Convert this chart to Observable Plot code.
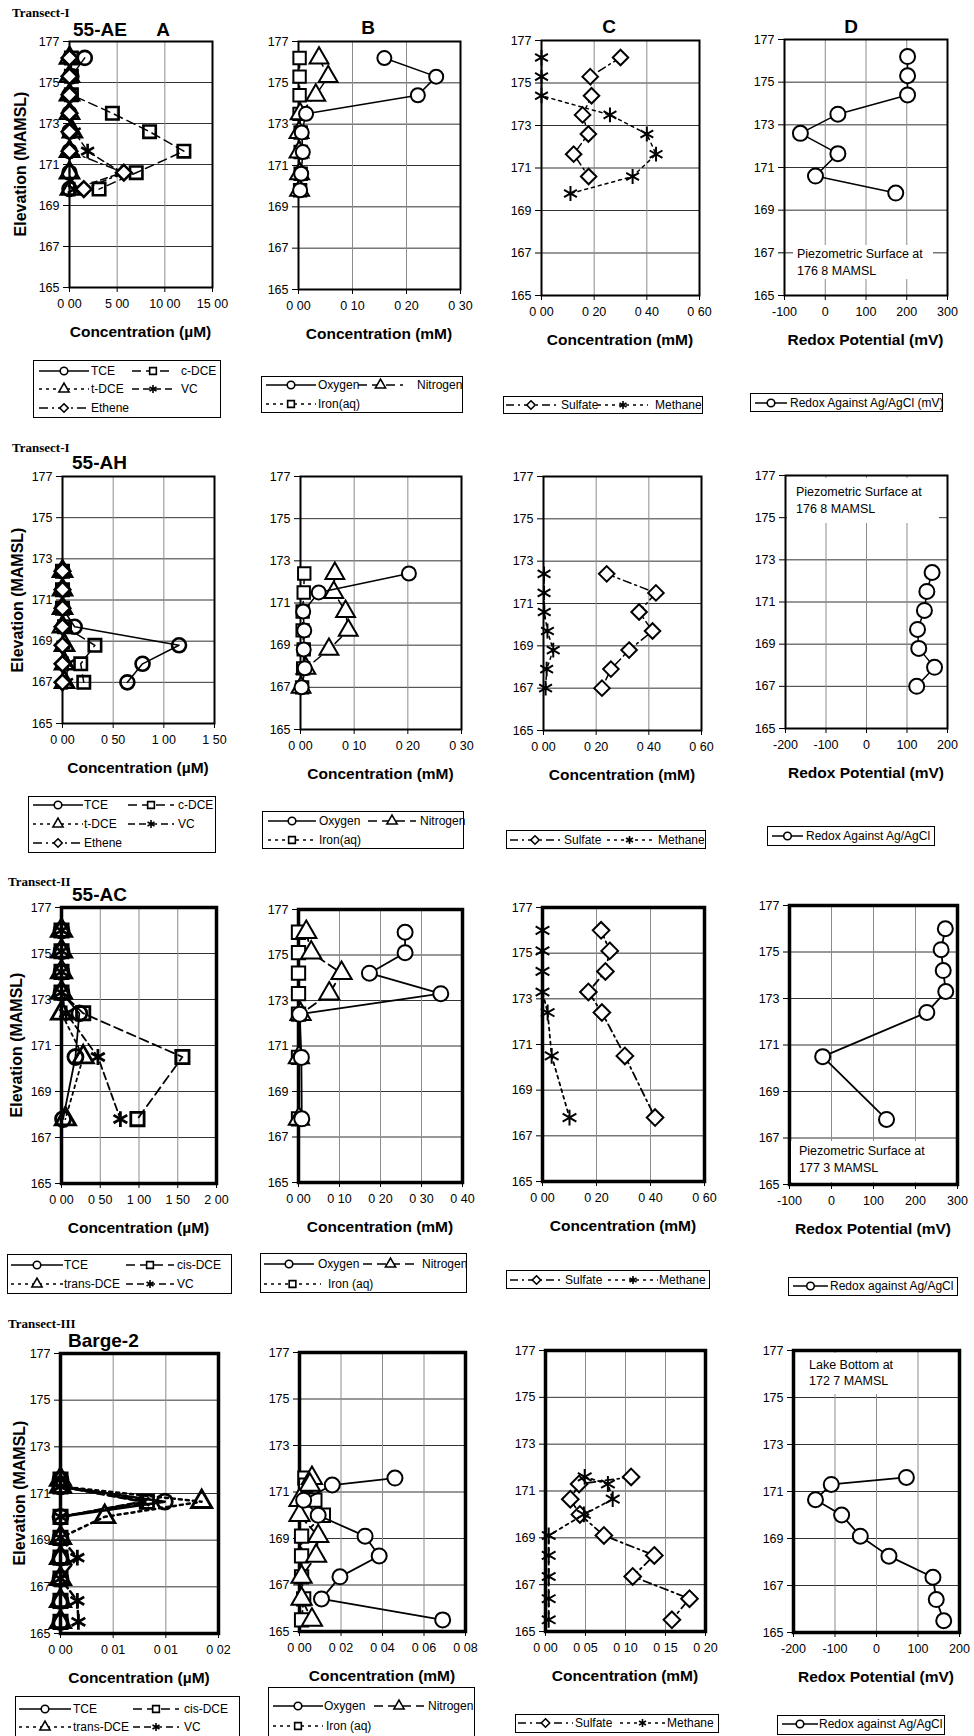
<!DOCTYPE html>
<html><head><meta charset="utf-8">
<script src="https://cdn.jsdelivr.net/npm/d3@7"></script>
<script src="https://cdn.jsdelivr.net/npm/@observablehq/plot@0.6"></script>
<style>
body{margin:0;background:#fff;}
#root{position:relative;width:974px;height:1736px;overflow:hidden;font-family:"Liberation Sans",Arial,sans-serif;color:#000;background:#fff;}
.abs{position:absolute;white-space:nowrap;}
.transect{font-family:"Liberation Serif","Times New Roman",serif;font-weight:bold;font-size:13px;transform:translateY(-50%);}
.station{font-weight:bold;font-size:19px;transform:translateY(-50%);}
.coltitle{font-weight:bold;font-size:19px;transform:translate(-50%,-50%);}
.xlab{font-weight:bold;font-size:15.5px;transform:translate(-50%,-50%);}
.ylab{font-weight:bold;font-size:16px;transform:translate(-50%,-50%) rotate(-90deg);}
.legend{position:absolute;border:1.3px solid #000;box-sizing:border-box;background:#fff;}
.legend span{position:absolute;font-size:12px;transform:translateY(-50%);white-space:nowrap;}
.note{position:absolute;background:#fff;font-size:12.5px;box-sizing:border-box;white-space:nowrap;}
</style></head>
<body><div id="root"></div>
<script>
// ---------- DATA ----------
const yTicks = [165, 167, 169, 171, 173, 175, 177];

// Transect-I, 55-AE
const elev_AE = [176.2, 175.3, 174.4, 173.5, 172.6, 171.65, 170.6, 169.8];
const AE_TCE = [1.6, 0.2, 0, 0, 0, 0, 0, 0];
const AE_cDCE = [0.2, 0.2, 0.2, 4.5, 8.4, 12.0, 7.0, 3.1];
const AE_tDCE = [0, 0, 0, 0, 0.3, 0, 0, 0.1];
const AE_VC = [0, 0, 0, 0, 0.5, 1.9, 5.5, 0.5];
const AE_Ethene = [0, 0, 0, 0, 0, 0, 5.7, 1.5];
const AE_O2 = [0.159, 0.255, 0.221, 0.014, 0.006, 0.008, 0.005, 0.003];
const AE_N2 = [0.038, 0.055, 0.032, 0.003, 0.001, 0.001, 0.002, 0.002];
const AE_Fe = [0.002, 0.002, 0.002, 0.002, 0.004, 0.004, 0.004, 0.003];
const AE_SO4 = [0.30, 0.185, 0.19, 0.156, 0.178, 0.122, 0.179, null];
const AE_CH4 = [0.0, 0.0, 0.0, 0.26, 0.40, 0.435, 0.346, 0.11];
const AE_Eh = [202, 202, 202, 31, -61, 31, -24, 173];

// Transect-I, 55-AH
const elev_AH = [172.4, 171.5, 170.6, 169.7, 168.8, 167.9, 167.0];
const AH_TCE = [0, 0, 0, 0.12, 1.15, 0.79, 0.64];
const AH_cDCE = [0, 0, 0, 0.02, 0.32, 0.18, 0.21];
const AH_tDCE = [0, 0, 0, 0, 0.02, 0.02, 0.02];
const AH_VC = [0, 0, 0, 0, 0.01, 0.05, 0.04];
const AH_Ethene = [0, 0, 0, 0, 0, 0, 0];
const AH_O2 = [0.202, 0.034, 0.005, 0.007, 0.006, 0.008, 0.002];
const AH_N2 = [0.064, 0.062, 0.084, 0.089, 0.053, 0.010, 0.001];
const AH_Fe = [0.007, 0.006, 0.004, 0.004, 0.006, 0.005, 0.003];
const AH_SO4 = [0.24, 0.427, 0.363, 0.414, 0.325, 0.256, 0.222];
const AH_CH4 = [0.002, 0.002, 0.003, 0.015, 0.037, 0.012, 0.008];
const AH_Eh = [162, 149, 143, 126, 129, 168, 124];

// Transect-II, 55-AC
const elev_AC = [176.0, 175.1, 174.2, 173.3, 172.4, 170.5, 167.8];
const AC_TCE = [0, 0, 0, 0, 0.23, 0.18, 0.02];
const AC_cDCE = [0, 0, 0, 0, 0.28, 1.56, 0.98];
const AC_tDCE = [0, 0, 0, 0, 0.0, 0.28, 0.05];
const AC_VC = [0, 0, 0, 0, 0.06, 0.47, 0.76];
const AC_O2 = [0.26, 0.26, 0.173, 0.347, 0.003, 0.007, 0.008];
const AC_N2 = [0.019, 0.031, 0.105, 0.075, 0.005, 0.001, 0.001];
const AC_Fe = [0, 0, 0, 0, 0, 0, 0];
const AC_SO4 = [0.217, 0.249, 0.233, 0.17, 0.22, 0.305, 0.417];
const AC_CH4 = [0, 0, 0, 0, 0.019, 0.034, 0.10];
const AC_Eh = [271, 261, 266, 272, 227, -21, 131];

// Transect-III, Barge-2
const elev_B2 = [171.6, 171.3, 170.65, 170.0, 169.1, 168.25, 167.35, 166.4, 165.5];
const B2_TCE = [0, 0, 0.0099, 0, 0, 0, 0, 0, 0];
const B2_cDCE = [0, 0, 0.0082, 0, 0, 0, 0, 0, 0];
const B2_tDCE = [0, 0, 0.0134, 0.0042, 0, 0, 0, 0, 0];
const B2_VC = [0, 0, 0.0078, 0, 0, 0.0016, 0, 0.0016, 0.0017];
const B2_O2 = [0.046, 0.0158, 0.002, 0.009, 0.0316, 0.0384, 0.0195, 0.0106, 0.069];
const B2_N2 = [0.006, 0.005, 0.0, 0.0, 0.009, 0.008, 0.001, 0.001, 0.006];
const B2_Fe = [0.0026, 0.003, 0.0074, 0.0115, 0.001, 0.001, 0.001, 0.002, 0.001];
const B2_SO4 = [0.107, 0.042, 0.031, 0.043, 0.073, 0.136, 0.109, 0.18, 0.158];
const B2_CH4 = [0.049, 0.078, 0.084, 0.048, 0.004, 0.004, 0.004, 0.004, 0.004];
const B2_Eh = [72, -109, -147, -84, -39, 30, 136, 144, 162];

// tick values and labels
const xt_AE_A = [0, 5, 10, 15], xl_AE_A = ["0 00", "5 00", "10 00", "15 00"];
const xt_mM3 = [0, 0.1, 0.2, 0.3], xl_mM3 = ["0 00", "0 10", "0 20", "0 30"];
const xt_mM6 = [0, 0.2, 0.4, 0.6], xl_mM6 = ["0 00", "0 20", "0 40", "0 60"];
const xt_Eh1 = [-100, 0, 100, 200, 300], xl_Eh1 = ["-100", "0", "100", "200", "300"];
const xt_AH_A = [0, 0.5, 1, 1.5], xl_AH_A = ["0 00", "0 50", "1 00", "1 50"];
const xt_Eh2 = [-200, -100, 0, 100, 200], xl_Eh2 = ["-200", "-100", "0", "100", "200"];
const xt_AC_A = [0, 0.5, 1, 1.5, 2], xl_AC_A = ["0 00", "0 50", "1 00", "1 50", "2 00"];
const xt_mM4 = [0, 0.1, 0.2, 0.3, 0.4], xl_mM4 = ["0 00", "0 10", "0 20", "0 30", "0 40"];
const xt_B2_A = [0, 0.005, 0.01, 0.015], xl_B2_A = ["0 00", "0 01", "0 01", "0 02"];
const xt_B2_B = [0, 0.02, 0.04, 0.06, 0.08], xl_B2_B = ["0 00", "0 02", "0 04", "0 06", "0 08"];
const xt_B2_C = [0, 0.05, 0.1, 0.15, 0.2], xl_B2_C = ["0 00", "0 05", "0 10", "0 15", "0 20"];

// ---------- STYLES ----------
const STY = {
  TCE: {symbol: "circle", dash: null, fill: "none"},
  cDCE: {symbol: "square", dash: "9,5", fill: "none"},
  tDCE: {symbol: "triangle", dash: "3,4", fill: "none"},
  VC: {symbol: "asterisk", dash: "7,4", fill: "none"},
  Ethene: {symbol: "diamond2", dash: "9,4,2,4", fill: "#fff"},
  O2: {symbol: "circle", dash: null, fill: "#fff"},
  N2: {symbol: "triangle", dash: "9,5", fill: "#fff"},
  Fe: {symbol: "square", dash: "3,4", fill: "#fff"},
  SO4: {symbol: "diamond2", dash: "8,4,2,4", fill: "#fff"},
  CH4: {symbol: "asterisk", dash: "3,4", fill: "none"},
  Eh: {symbol: "circle", dash: null, fill: "#fff"}
};

const root = document.getElementById("root");
function div(cls, text, css) {
  const d = document.createElement("div");
  d.className = cls; d.textContent = text;
  Object.assign(d.style, css);
  root.appendChild(d);
  return d;
}

function makePanel(p) {
  const [x0, y0, x1, y1] = p.f;
  const ml = 44, mr = 24, mt = 12, mb = 34;
  const W = x1 - x0 + ml + mr, H = y1 - y0 + mt + mb;
  const labels = new Map(p.xt.map((t, i) => [t, p.xl[i]]));
  const marks = [
    Plot.gridY({ticks: yTicks, stroke: "#333", strokeOpacity: 1, strokeWidth: 1}),
    Plot.gridX({ticks: p.xt, stroke: "#8c8c8c", strokeOpacity: 1, strokeWidth: 1}),
    Plot.axisY({ticks: yTicks, tickSize: 6, tickPadding: 4, label: null, tickFormat: d => String(d)}),
    Plot.axisX({ticks: p.xt, tickSize: 5, tickPadding: 7, label: null, tickFormat: d => labels.get(d)}),
    Plot.frame({stroke: "#000", strokeWidth: p.fw})
  ];
  for (const [key, vals] of p.series) {
    const st = STY[key];
    const data = p.elev.map((e, i) => ({e, v: vals[i]})).filter(d => d.v != null);
    marks.push(Plot.line(data, {x: "v", y: "e", stroke: "#000", strokeWidth: p.lw, strokeDasharray: st.dash || undefined}));
    marks.push(Plot.dot(data, {x: "v", y: "e", symbol: st.symbol, r: p.r, stroke: "#000", strokeWidth: p.sw || 2, fill: st.fill}));
  }
  const svg = Plot.plot({
    width: W, height: H,
    marginLeft: ml, marginRight: mr, marginTop: mt, marginBottom: mb,
    x: {domain: [p.xt[0], p.xt[p.xt.length - 1]]},
    y: {domain: [165, 177]},
    style: {background: "transparent", fontFamily: "'Liberation Sans', Arial, sans-serif", fontSize: "12.5px", color: "#000", overflow: "visible"},
    marks
  });
  svg.style.position = "absolute";
  svg.style.left = (x0 - ml) + "px";
  svg.style.top = (y0 - mt) + "px";
  svg.style.maxWidth = "none";
  root.appendChild(svg);
  div("abs xlab", p.xlab, {left: ((x0 + x1) / 2) + "px", top: (y1 + 45) + "px"});
  if (p.ylab != null) div("abs ylab", "Elevation (MAMSL)", {left: p.ylab + "px", top: ((y0 + y1) / 2) + "px"});
}

const symType = {circle: d3.symbolCircle, square: d3.symbolSquare, triangle: d3.symbolTriangle, asterisk: d3.symbolAsterisk, diamond2: d3.symbolDiamond2};
function makeLegend(L) {
  const [bl, bt, bw, bh] = L.box;
  const box = document.createElement("div");
  box.className = "legend";
  Object.assign(box.style, {left: bl + "px", top: bt + "px", width: bw + "px", height: bh + "px"});
  root.appendChild(box);
  for (const [key, label, ci, ri] of L.items) {
    const [s0, s1, tx] = L.cols[ci];
    const y = L.rows[ri];
    const st = STY[key];
    const w = s1 - s0, h = 14;
    const svg = d3.create("svg").attr("width", w).attr("height", h)
      .style("position", "absolute").style("left", s0 + "px").style("top", (y - h / 2 - 1) + "px").style("overflow", "visible");
    svg.append("line").attr("x1", 0).attr("x2", w).attr("y1", h / 2).attr("y2", h / 2)
      .attr("stroke", "#000").attr("stroke-width", 1.5).attr("stroke-dasharray", st.dash);
    svg.append("path").attr("transform", `translate(${w / 2},${h / 2})`)
      .attr("d", d3.symbol(symType[st.symbol], 45)())
      .attr("fill", st.symbol === "asterisk" ? "none" : "#fff").attr("stroke", "#000").attr("stroke-width", 1.6);
    box.appendChild(svg.node());
    const sp = document.createElement("span");
    sp.textContent = label;
    sp.style.left = tx + "px"; sp.style.top = (y - 1) + "px";
    box.appendChild(sp);
  }
}

function makeNote(n) {
  const d = document.createElement("div");
  d.className = "note";
  Object.assign(d.style, {left: n.box[0] + "px", top: n.box[1] + "px", width: n.box[2] + "px", height: n.box[3] + "px",
    paddingLeft: n.pl + "px", paddingTop: n.pt + "px", lineHeight: n.lh + "px"});
  d.innerHTML = n.lines.map(s => `<div>${s}</div>`).join("");
  root.appendChild(d);
}

// ---------- LAYOUT ----------
const chlor5 = (pre) => [["TCE", pre.TCE], ["cDCE", pre.cDCE], ["tDCE", pre.tDCE], ["VC", pre.VC], ["Ethene", pre.Ethene]];
const panels = [
  // Row 1
  {f: [69, 41, 212, 287], xt: xt_AE_A, xl: xl_AE_A, elev: elev_AE, series: chlor5({TCE: AE_TCE, cDCE: AE_cDCE, tDCE: AE_tDCE, VC: AE_VC, Ethene: AE_Ethene}), xlab: "Concentration (µM)", ylab: 21, fw: 2, lw: 1.5, r: 7, sw: 2.6},
  {f: [298, 41, 460, 289], xt: xt_mM3, xl: xl_mM3, elev: elev_AE, series: [["Fe", AE_Fe], ["N2", AE_N2], ["O2", AE_O2]], xlab: "Concentration (mM)", fw: 2, lw: 1.5, r: 7},
  {f: [541, 40, 699, 295], xt: xt_mM6, xl: xl_mM6, elev: elev_AE, series: [["SO4", AE_SO4], ["CH4", AE_CH4]], xlab: "Concentration (mM)", fw: 2, lw: 1.5, r: 7},
  {f: [784, 39, 947, 295], xt: xt_Eh1, xl: xl_Eh1, elev: elev_AE, series: [["Eh", AE_Eh]], xlab: "Redox Potential (mV)", fw: 2, lw: 1.5, r: 7.5},
  // Row 2
  {f: [62, 476, 214, 723], xt: xt_AH_A, xl: xl_AH_A, elev: elev_AH, series: chlor5({TCE: AH_TCE, cDCE: AH_cDCE, tDCE: AH_tDCE, VC: AH_VC, Ethene: AH_Ethene}), xlab: "Concentration (µM)", ylab: 18, fw: 2, lw: 1.5, r: 7, sw: 2.6},
  {f: [300, 476, 461, 729], xt: xt_mM3, xl: xl_mM3, elev: elev_AH, series: [["Fe", AH_Fe], ["N2", AH_N2], ["O2", AH_O2]], xlab: "Concentration (mM)", fw: 2, lw: 1.5, r: 7},
  {f: [543, 476, 701, 730], xt: xt_mM6, xl: xl_mM6, elev: elev_AH, series: [["SO4", AH_SO4], ["CH4", AH_CH4]], xlab: "Concentration (mM)", fw: 2, lw: 1.5, r: 7},
  {f: [785, 475, 947, 728], xt: xt_Eh2, xl: xl_Eh2, elev: elev_AH, series: [["Eh", AH_Eh]], xlab: "Redox Potential (mV)", fw: 2, lw: 1.5, r: 7.5},
  // Row 3
  {f: [61, 907, 216, 1183], xt: xt_AC_A, xl: xl_AC_A, elev: elev_AC, series: [["TCE", AC_TCE], ["cDCE", AC_cDCE], ["tDCE", AC_tDCE], ["VC", AC_VC]], xlab: "Concentration (µM)", ylab: 17, fw: 3.5, lw: 1.8, r: 7.5, sw: 2.8},
  {f: [298, 909, 462, 1182], xt: xt_mM4, xl: xl_mM4, elev: elev_AC, series: [["Fe", AC_Fe], ["N2", AC_N2], ["O2", AC_O2]], xlab: "Concentration (mM)", fw: 3.5, lw: 1.8, r: 7.5},
  {f: [542, 907, 704, 1181], xt: xt_mM6, xl: xl_mM6, elev: elev_AC, series: [["SO4", AC_SO4], ["CH4", AC_CH4]], xlab: "Concentration (mM)", fw: 3.5, lw: 1.8, r: 7.5},
  {f: [789, 905, 957, 1184], xt: xt_Eh1, xl: xl_Eh1, elev: elev_AC, series: [["Eh", AC_Eh]], xlab: "Redox Potential (mV)", fw: 3.5, lw: 1.8, r: 7.5},
  // Row 4
  {f: [60, 1353, 218, 1633], xt: xt_B2_A, xl: xl_B2_A, elev: elev_B2, series: [["tDCE", B2_tDCE], ["VC", B2_VC], ["TCE", B2_TCE], ["cDCE", B2_cDCE]], xlab: "Concentration (µM)", ylab: 20, fw: 3.5, lw: 2.5, r: 7.5, sw: 2.8},
  {f: [299, 1352, 465, 1631], xt: xt_B2_B, xl: xl_B2_B, elev: elev_B2, series: [["Fe", B2_Fe], ["N2", B2_N2], ["O2", B2_O2]], xlab: "Concentration (mM)", fw: 3.5, lw: 1.8, r: 7.5},
  {f: [545, 1350, 705, 1631], xt: xt_B2_C, xl: xl_B2_C, elev: elev_B2, series: [["SO4", B2_SO4], ["CH4", B2_CH4]], xlab: "Concentration (mM)", fw: 3.5, lw: 1.8, r: 7.5},
  {f: [793, 1350, 959, 1632], xt: xt_Eh2, xl: xl_Eh2, elev: elev_B2, series: [["Eh", B2_Eh]], xlab: "Redox Potential (mV)", fw: 3.5, lw: 1.8, r: 7.5}
];
panels.forEach(makePanel);

// titles
div("abs transect", "Transect-I", {left: "12px", top: "13px"});
div("abs station", "55-AE", {left: "73px", top: "30px"});
div("abs coltitle", "A", {left: "163px", top: "30px"});
div("abs coltitle", "B", {left: "368px", top: "28px"});
div("abs coltitle", "C", {left: "609px", top: "27px"});
div("abs coltitle", "D", {left: "851px", top: "27px"});
div("abs transect", "Transect-I", {left: "12px", top: "448px"});
div("abs station", "55-AH", {left: "72px", top: "463px"});
div("abs transect", "Transect-II", {left: "8px", top: "882px"});
div("abs station", "55-AC", {left: "72px", top: "895px"});
div("abs transect", "Transect-III", {left: "8px", top: "1324px"});
div("abs station", "Barge-2", {left: "68px", top: "1341px"});

// annotations
makeNote({box: [793, 245, 140, 34], pl: 4, pt: 0.5, lh: 17, lines: ["Piezometric Surface at", "176 8 MAMSL"]});
makeNote({box: [787, 478, 152, 45], pl: 9, pt: 6, lh: 16.5, lines: ["Piezometric Surface at", "176 8 MAMSL"]});
makeNote({box: [791, 1141, 164, 41], pl: 8, pt: 1.5, lh: 17, lines: ["Piezometric Surface at", "177 3 MAMSL"]});
makeNote({box: [797, 1353, 108, 41], pl: 12, pt: 3.5, lh: 16, lines: ["Lake Bottom at", "172 7 MAMSL"]});

// legends
const legends = [
  {box: [33, 360, 188, 58], cols: [[5, 55, 57], [98, 140, 147]], rows: [11, 29, 48],
   items: [["TCE", "TCE", 0, 0], ["cDCE", "c-DCE", 1, 0], ["tDCE", "t-DCE", 0, 1], ["VC", "VC", 1, 1], ["Ethene", "Ethene", 0, 2]]},
  {box: [261, 376, 202, 37], cols: [[4, 54, 56], [96, 141, 155]], rows: [9, 28],
   items: [["O2", "Oxygen", 0, 0], ["N2", "Nitrogen", 1, 0], ["Fe", "Iron(aq)", 0, 1]]},
  {box: [503, 396, 200, 18], cols: [[2, 52, 57], [94, 144, 151]], rows: [9],
   items: [["SO4", "Sulfate", 0, 0], ["CH4", "Methane", 1, 0]]},
  {box: [750, 393, 193, 19], cols: [[4, 36, 39]], rows: [9.5],
   items: [["Eh", "Redox Against Ag/AgCl (mV)", 0, 0]]},

  {box: [28, 796, 188, 57], cols: [[4, 54, 55], [99, 145, 149]], rows: [9, 28, 47],
   items: [["TCE", "TCE", 0, 0], ["cDCE", "c-DCE", 1, 0], ["tDCE", "t-DCE", 0, 1], ["VC", "VC", 1, 1], ["Ethene", "Ethene", 0, 2]]},
  {box: [262, 811, 202, 38], cols: [[5, 53, 56], [105, 153, 157]], rows: [10, 29],
   items: [["O2", "Oxygen", 0, 0], ["N2", "Nitrogen", 1, 0], ["Fe", "Iron(aq)", 0, 1]]},
  {box: [506, 830, 200, 19], cols: [[3, 53, 57], [100, 145, 151]], rows: [10],
   items: [["SO4", "Sulfate", 0, 0], ["CH4", "Methane", 1, 0]]},
  {box: [767, 826, 168, 20], cols: [[4, 35, 38]], rows: [10],
   items: [["Eh", "Redox Against Ag/AgCl", 0, 0]]},

  {box: [7, 1254, 225, 40], cols: [[3, 55, 56], [118, 166, 169]], rows: [11, 30],
   items: [["TCE", "TCE", 0, 0], ["cDCE", "cis-DCE", 1, 0], ["tDCE", "trans-DCE", 0, 1], ["VC", "VC", 1, 1]]},
  {box: [260, 1253, 207, 40], cols: [[3, 53, 57], [102, 157, 161], [3, 60, 67]], rows: [11, 31],
   items: [["O2", "Oxygen", 0, 0], ["N2", "Nitrogen", 1, 0], ["Fe", "Iron (aq)", 2, 1]]},
  {box: [506, 1270, 204, 19], cols: [[3, 56, 58], [101, 151, 152]], rows: [10],
   items: [["SO4", "Sulfate", 0, 0], ["CH4", "Methane", 1, 0]]},
  {box: [788, 1277, 170, 19], cols: [[4, 39, 41]], rows: [9],
   items: [["Eh", "Redox against Ag/AgCl", 0, 0]]},

  {box: [15, 1696, 225, 46], cols: [[3, 55, 57], [117, 163, 168]], rows: [13, 31],
   items: [["TCE", "TCE", 0, 0], ["cDCE", "cis-DCE", 1, 0], ["tDCE", "trans-DCE", 0, 1], ["VC", "VC", 1, 1]]},
  {box: [268, 1687, 207, 56], cols: [[4, 54, 55], [105, 155, 159], [4, 54, 57]], rows: [19, 39],
   items: [["O2", "Oxygen", 0, 0], ["N2", "Nitrogen", 1, 0], ["Fe", "Iron (aq)", 2, 1]]},
  {box: [515, 1714, 204, 19], cols: [[2, 57, 59], [104, 149, 151]], rows: [9],
   items: [["SO4", "Sulfate", 0, 0], ["CH4", "Methane", 1, 0]]},
  {box: [777, 1715, 168, 20], cols: [[4, 40, 41]], rows: [9],
   items: [["Eh", "Redox against Ag/AgCl", 0, 0]]}
];
legends.forEach(makeLegend);
</script></body></html>
